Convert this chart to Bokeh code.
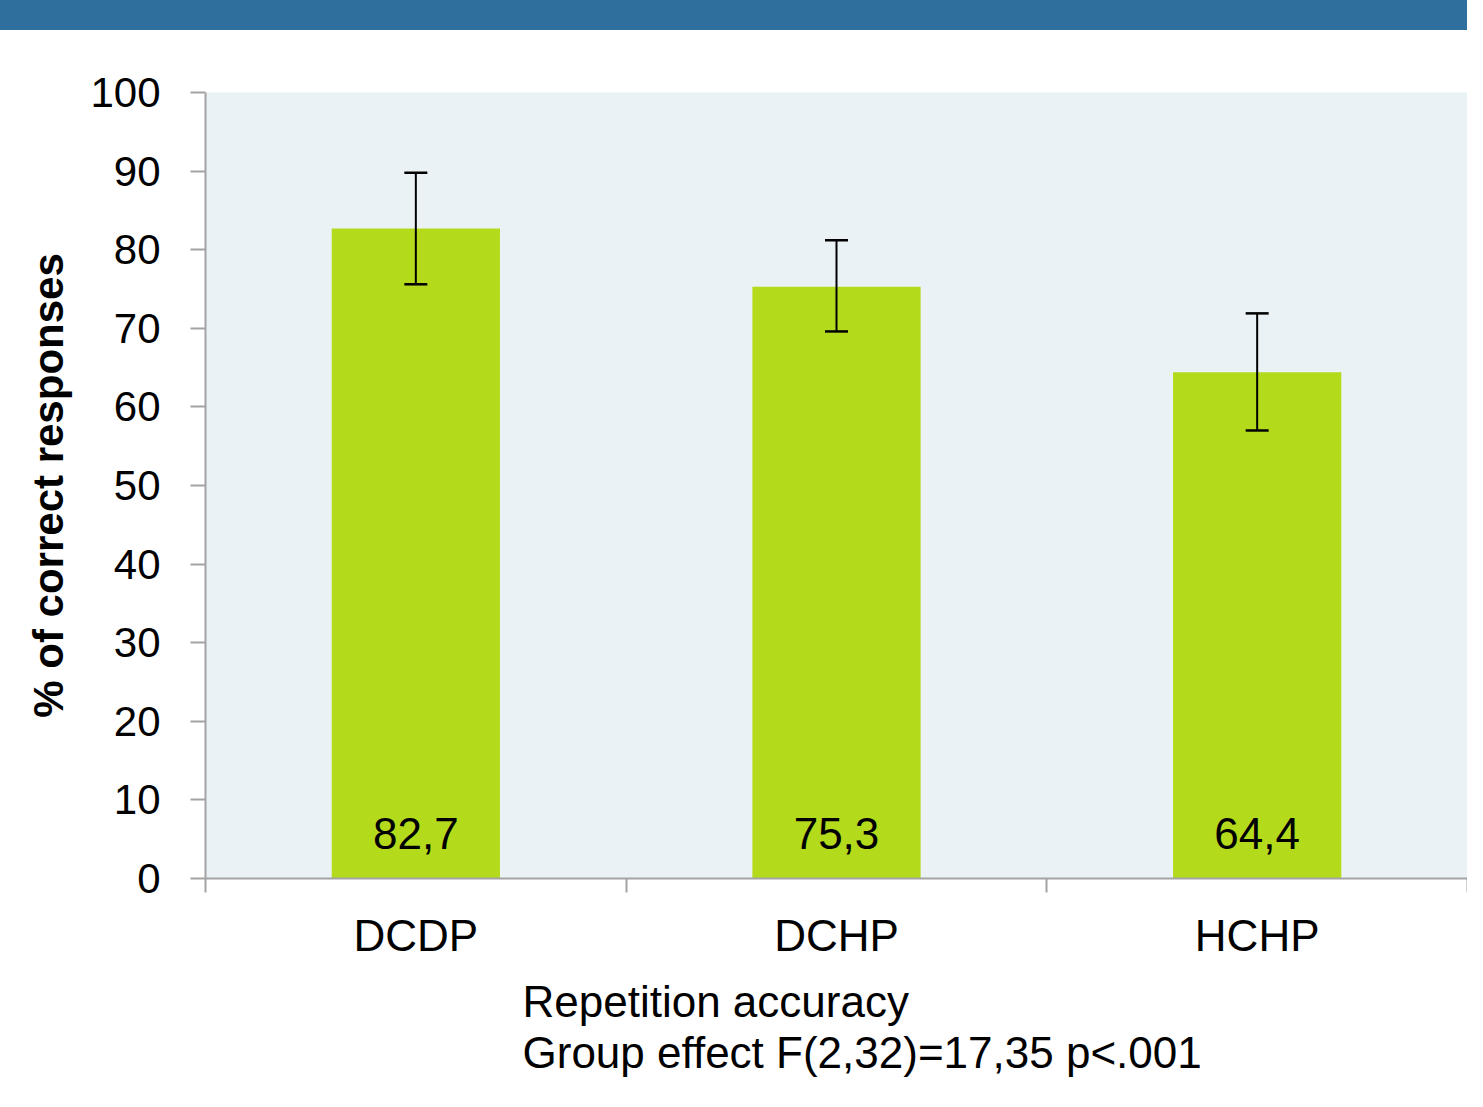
from bokeh.plotting import figure
from bokeh.models import (ColumnDataSource, Range1d, FixedTicker, Whisker, TeeHead, Title, Div)
from bokeh.layouts import column
from bokeh.embed import file_html
from bokeh.resources import INLINE
from bokeh.core.properties import value

# ---- data ----
categories = ["DCDP", "DCHP", "HCHP"]
means = [82.7, 75.3, 64.4]
err_upper = [89.8, 81.2, 71.9]
err_lower = [75.6, 69.6, 57.0]
value_labels = ["82,7", "75,3", "64,4"]
y_ticks = [0, 10, 20, 30, 40, 50, 60, 70, 80, 90, 100]
y_title = "% of correct responses"
note_lines = ["Repetition accuracy", "Group effect F(2,32)=17,35 p<.001"]

FONT = "Liberation Sans"
BLUE = "#2E6F9E"
BG = "#EBF2F6"
BAR = "#B4DA1C"
GRAY = "#A3A3A3"

W = 1467
xs = [i + 0.5 for i in range(len(categories))]

src = ColumnDataSource(dict(x=xs, top=means, up=err_upper, lo=err_lower,
                            lab=value_labels, ly=[5.7] * len(xs)))

band = Div(text="", width=W, height=30,
           styles={"background-color": BLUE, "margin": "0", "padding": "0"})

p = figure(width=W, height=1061, output_backend="svg", toolbar_location=None,
           x_range=Range1d(0, 3), y_range=Range1d(0, 100),
           min_border_left=205, min_border_right=0, min_border_top=62,
           min_border_bottom=213)
p.background_fill_color = BG
p.border_fill_color = "white"
p.outline_line_color = None
p.grid.visible = False

p.vbar(x="x", top="top", width=0.4, bottom=0, source=src,
       fill_color=BAR, line_color=None)

wh = Whisker(base="x", upper="up", lower="lo", source=src,
             line_color="black", line_width=2, level="overlay",
             upper_head=TeeHead(size=23, line_color="black", line_width=2.5),
             lower_head=TeeHead(size=23, line_color="black", line_width=2.5))
p.add_layout(wh)

p.text(x="x", y="ly", text="lab", source=src, text_align="center",
       text_baseline="middle", text_font=value(FONT), text_font_size="44px",
       text_color="black")

# y axis
ya = p.yaxis[0]
ya.ticker = FixedTicker(ticks=y_ticks)
ya.axis_line_color = GRAY
ya.axis_line_width = 2
ya.major_tick_line_color = GRAY
ya.major_tick_line_width = 2
ya.major_tick_in = 0
ya.major_tick_out = 15
ya.minor_tick_line_color = None
ya.major_label_standoff = 30
ya.major_label_text_font = FONT
ya.major_label_text_font_size = "42px"
ya.major_label_text_color = "black"
ya.axis_label = y_title
ya.axis_label_text_font = FONT
ya.axis_label_text_font_size = "42px"
ya.axis_label_text_font_style = "bold"
ya.axis_label_text_color = "black"
ya.axis_label_standoff = 15

# x axis
xa = p.xaxis[0]
xa.ticker = FixedTicker(ticks=xs, minor_ticks=[0, 1, 2, 3])
xa.major_label_overrides = {x: c for x, c in zip(xs, categories)}
xa.axis_line_color = GRAY
xa.axis_line_width = 2
xa.major_tick_line_color = None
xa.major_tick_in = 0
xa.major_tick_out = 0
xa.minor_tick_line_color = GRAY
xa.minor_tick_line_width = 2
xa.minor_tick_in = 0
xa.minor_tick_out = 14
xa.major_label_standoff = 18
xa.major_label_text_font = FONT
xa.major_label_text_font_size = "44px"
xa.major_label_text_color = "black"

note = Title(text="\n".join(note_lines), align="left", offset=317, standoff=24,
             text_font=FONT, text_font_size="44px", text_font_style="normal",
             text_color="black", text_line_height=1.06)
p.add_layout(note, "below")

layout = column(band, p, spacing=0)
open("out.html", "w").write(file_html(layout, INLINE))
